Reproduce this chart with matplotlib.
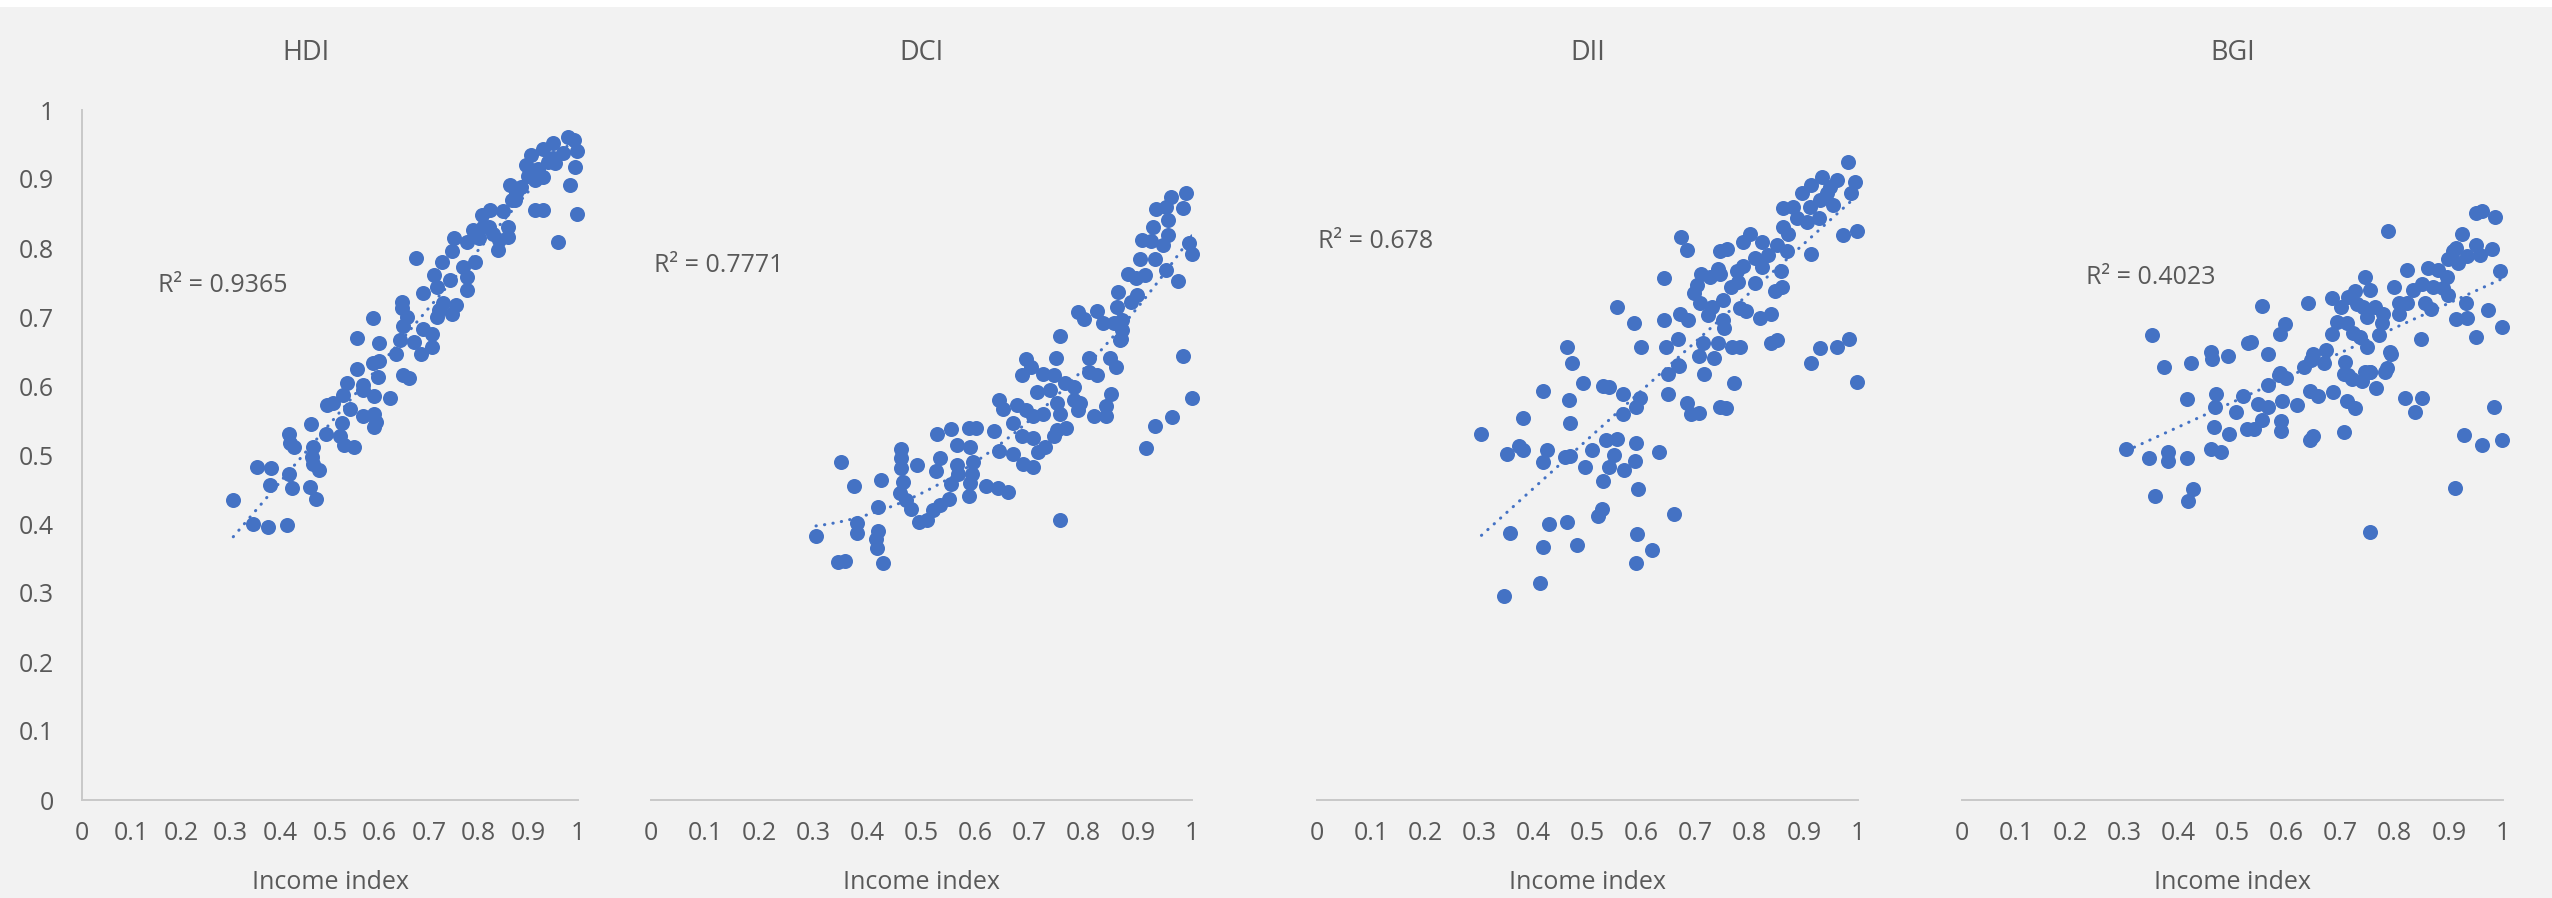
import numpy as np
from matplotlib import pyplot as plt
from matplotlib.patches import Rectangle

BLUE = "#4472C4"
GREY = "#595959"
AXIS = "#c8c8c8"

# (income index, index value) pairs
hdi_points = [
    (0.305, 0.435), (0.345, 0.400), (0.374, 0.395), (0.413, 0.399), (0.353, 0.483), (0.381, 0.481),
    (0.380, 0.457), (0.417, 0.472), (0.424, 0.452), (0.460, 0.453), (0.471, 0.436), (0.417, 0.530),
    (0.419, 0.517), (0.427, 0.511), (0.462, 0.545), (0.466, 0.512), (0.463, 0.497), (0.465, 0.487),
    (0.478, 0.478), (0.491, 0.530), (0.525, 0.546), (0.520, 0.528), (0.528, 0.514), (0.549, 0.511),
    (0.493, 0.572), (0.507, 0.576), (0.527, 0.587), (0.540, 0.566), (0.534, 0.605), (0.566, 0.557),
    (0.589, 0.560), (0.593, 0.548), (0.589, 0.540), (0.566, 0.601), (0.566, 0.594), (0.589, 0.585),
    (0.620, 0.583), (0.555, 0.625), (0.597, 0.613), (0.587, 0.634), (0.599, 0.636), (0.555, 0.669),
    (0.599, 0.662), (0.633, 0.647), (0.648, 0.616), (0.660, 0.612), (0.641, 0.667), (0.648, 0.687),
    (0.670, 0.664), (0.683, 0.647), (0.687, 0.683), (0.705, 0.676), (0.706, 0.656), (0.586, 0.698),
    (0.715, 0.700), (0.673, 0.786), (0.645, 0.722), (0.645, 0.713), (0.655, 0.700), (0.688, 0.735),
    (0.710, 0.761), (0.725, 0.780), (0.715, 0.744), (0.728, 0.720), (0.720, 0.710), (0.745, 0.705),
    (0.755, 0.717), (0.742, 0.754), (0.745, 0.795), (0.749, 0.814), (0.769, 0.773), (0.776, 0.758),
    (0.776, 0.739), (0.792, 0.780), (0.776, 0.809), (0.789, 0.826), (0.806, 0.848), (0.823, 0.855),
    (0.809, 0.831), (0.829, 0.821), (0.839, 0.797), (0.840, 0.812), (0.859, 0.831), (0.859, 0.816),
    (0.849, 0.853), (0.863, 0.891), (0.866, 0.870), (0.872, 0.870), (0.886, 0.889), (0.896, 0.920),
    (0.906, 0.935), (0.913, 0.899), (0.913, 0.855), (0.930, 0.855), (0.930, 0.903), (0.930, 0.944),
    (0.906, 0.913), (0.950, 0.952), (0.954, 0.923), (0.960, 0.808), (0.980, 0.961), (0.991, 0.957),
    (0.997, 0.940), (0.994, 0.918), (0.983, 0.891), (0.997, 0.849), (0.970, 0.937), (0.950, 0.930),
    (0.900, 0.905), (0.920, 0.915), (0.940, 0.925), (0.876, 0.880), (0.820, 0.830), (0.800, 0.815),
]

dci_points = [
    (0.305, 0.382), (0.346, 0.345), (0.359, 0.347), (0.352, 0.490), (0.375, 0.455), (0.381, 0.401),
    (0.381, 0.387), (0.419, 0.425), (0.419, 0.390), (0.415, 0.378), (0.417, 0.365), (0.428, 0.344),
    (0.425, 0.464), (0.463, 0.509), (0.463, 0.495), (0.463, 0.481), (0.466, 0.461), (0.461, 0.445),
    (0.471, 0.435), (0.480, 0.422), (0.492, 0.486), (0.496, 0.403), (0.510, 0.406), (0.522, 0.420),
    (0.534, 0.428), (0.550, 0.436), (0.527, 0.477), (0.534, 0.495), (0.529, 0.530), (0.555, 0.537),
    (0.565, 0.514), (0.565, 0.486), (0.567, 0.473), (0.555, 0.458), (0.587, 0.539), (0.600, 0.539),
    (0.590, 0.512), (0.596, 0.490), (0.593, 0.473), (0.590, 0.459), (0.588, 0.440), (0.620, 0.455),
    (0.642, 0.452), (0.659, 0.447), (0.634, 0.535), (0.644, 0.506), (0.644, 0.579), (0.650, 0.567),
    (0.670, 0.502), (0.670, 0.546), (0.676, 0.572), (0.685, 0.527), (0.687, 0.487), (0.707, 0.482),
    (0.707, 0.524), (0.694, 0.565), (0.707, 0.556), (0.725, 0.560), (0.693, 0.639), (0.685, 0.616),
    (0.702, 0.627), (0.713, 0.592), (0.725, 0.618), (0.716, 0.505), (0.728, 0.512), (0.744, 0.527),
    (0.750, 0.536), (0.768, 0.539), (0.756, 0.406), (0.749, 0.640), (0.744, 0.616), (0.738, 0.594),
    (0.750, 0.575), (0.756, 0.560), (0.765, 0.604), (0.781, 0.599), (0.781, 0.580), (0.793, 0.575),
    (0.790, 0.565), (0.810, 0.640), (0.810, 0.621), (0.824, 0.616), (0.819, 0.556), (0.841, 0.556),
    (0.841, 0.571), (0.850, 0.589), (0.848, 0.640), (0.860, 0.628), (0.867, 0.667), (0.915, 0.510),
    (0.932, 0.542), (0.963, 0.555), (0.984, 0.644), (1.000, 0.583), (0.756, 0.672), (0.789, 0.707),
    (0.800, 0.697), (0.824, 0.709), (0.835, 0.692), (0.855, 0.691), (0.870, 0.696), (0.870, 0.681),
    (0.868, 0.668), (0.862, 0.714), (0.863, 0.736), (0.888, 0.722), (0.898, 0.732), (0.881, 0.762),
    (0.896, 0.756), (0.913, 0.761), (0.904, 0.784), (0.932, 0.784), (0.952, 0.768), (0.975, 0.752),
    (0.907, 0.812), (0.925, 0.810), (0.946, 0.804), (0.955, 0.819), (0.927, 0.831), (0.933, 0.857),
    (0.952, 0.860), (0.956, 0.841), (0.962, 0.874), (0.984, 0.858), (0.988, 0.880), (0.995, 0.807),
    (1.000, 0.792),
]

dii_points = [
    (0.304, 0.530), (0.352, 0.501), (0.374, 0.513), (0.380, 0.507), (0.381, 0.553), (0.357, 0.387),
    (0.346, 0.295), (0.413, 0.314), (0.417, 0.366), (0.428, 0.400), (0.418, 0.490), (0.425, 0.507),
    (0.418, 0.593), (0.462, 0.403), (0.480, 0.370), (0.458, 0.497), (0.468, 0.499), (0.468, 0.547),
    (0.465, 0.580), (0.471, 0.633), (0.492, 0.604), (0.495, 0.483), (0.508, 0.507), (0.528, 0.463),
    (0.520, 0.412), (0.526, 0.422), (0.534, 0.522), (0.554, 0.523), (0.549, 0.500), (0.540, 0.483),
    (0.567, 0.478), (0.590, 0.518), (0.588, 0.491), (0.594, 0.451), (0.592, 0.386), (0.620, 0.362),
    (0.590, 0.344), (0.633, 0.504), (0.659, 0.414), (0.529, 0.600), (0.540, 0.598), (0.565, 0.588),
    (0.597, 0.582), (0.589, 0.569), (0.565, 0.560), (0.649, 0.589), (0.649, 0.618), (0.670, 0.629),
    (0.684, 0.576), (0.691, 0.560), (0.707, 0.561), (0.715, 0.617), (0.745, 0.569), (0.756, 0.568),
    (0.770, 0.605), (0.914, 0.634), (0.999, 0.606), (0.463, 0.657), (0.554, 0.715), (0.586, 0.691),
    (0.598, 0.657), (0.641, 0.756), (0.641, 0.696), (0.646, 0.657), (0.668, 0.668), (0.672, 0.816),
    (0.684, 0.797), (0.671, 0.704), (0.686, 0.695), (0.668, 0.630), (0.696, 0.735), (0.703, 0.746),
    (0.709, 0.762), (0.708, 0.720), (0.723, 0.703), (0.714, 0.662), (0.707, 0.643), (0.734, 0.640),
    (0.726, 0.758), (0.742, 0.770), (0.745, 0.762), (0.745, 0.796), (0.757, 0.798), (0.730, 0.715),
    (0.751, 0.725), (0.751, 0.696), (0.753, 0.684), (0.742, 0.662), (0.767, 0.657), (0.781, 0.657),
    (0.765, 0.743), (0.776, 0.766), (0.779, 0.751), (0.788, 0.774), (0.782, 0.713), (0.793, 0.709),
    (0.788, 0.808), (0.800, 0.821), (0.810, 0.785), (0.810, 0.749), (0.822, 0.809), (0.822, 0.773),
    (0.819, 0.698), (0.840, 0.704), (0.839, 0.662), (0.850, 0.667), (0.834, 0.790), (0.850, 0.804),
    (0.847, 0.737), (0.859, 0.744), (0.858, 0.766), (0.868, 0.795), (0.862, 0.831), (0.871, 0.821),
    (0.861, 0.858), (0.880, 0.860), (0.887, 0.843), (0.896, 0.879), (0.905, 0.838), (0.914, 0.891),
    (0.911, 0.860), (0.914, 0.792), (0.927, 0.843), (0.933, 0.903), (0.930, 0.870), (0.942, 0.879),
    (0.948, 0.889), (0.954, 0.862), (0.962, 0.899), (0.973, 0.819), (0.981, 0.925), (0.994, 0.896),
    (0.987, 0.880), (0.999, 0.825), (0.930, 0.655), (0.962, 0.656), (0.983, 0.668),
]

bgi_points = [
    (0.352, 0.674), (0.374, 0.627), (0.423, 0.633), (0.460, 0.650), (0.463, 0.639), (0.491, 0.644),
    (0.529, 0.663), (0.535, 0.664), (0.554, 0.716), (0.565, 0.647), (0.587, 0.676), (0.597, 0.690),
    (0.640, 0.720), (0.649, 0.647), (0.646, 0.638), (0.673, 0.652), (0.670, 0.633), (0.633, 0.627),
    (0.588, 0.619), (0.684, 0.728), (0.700, 0.715), (0.684, 0.676), (0.693, 0.693), (0.711, 0.691),
    (0.708, 0.635), (0.706, 0.618), (0.714, 0.729), (0.726, 0.737), (0.730, 0.719), (0.723, 0.677),
    (0.736, 0.671), (0.748, 0.657), (0.745, 0.758), (0.754, 0.739), (0.742, 0.714), (0.749, 0.700),
    (0.763, 0.714), (0.779, 0.705), (0.776, 0.691), (0.770, 0.674), (0.745, 0.621), (0.755, 0.621),
    (0.786, 0.626), (0.793, 0.647), (0.787, 0.824), (0.799, 0.743), (0.808, 0.721), (0.807, 0.704),
    (0.822, 0.768), (0.823, 0.721), (0.834, 0.739), (0.848, 0.668), (0.850, 0.748), (0.862, 0.771),
    (0.856, 0.720), (0.867, 0.712), (0.871, 0.744), (0.880, 0.768), (0.890, 0.742), (0.899, 0.732),
    (0.896, 0.758), (0.899, 0.784), (0.908, 0.795), (0.914, 0.800), (0.917, 0.778), (0.925, 0.821),
    (0.933, 0.788), (0.932, 0.720), (0.914, 0.697), (0.933, 0.698), (0.950, 0.671), (0.950, 0.804),
    (0.957, 0.790), (0.950, 0.851), (0.962, 0.854), (0.986, 0.845), (0.980, 0.799), (0.973, 0.710),
    (0.994, 0.767), (0.999, 0.686), (0.304, 0.508), (0.345, 0.495), (0.356, 0.440), (0.381, 0.505),
    (0.381, 0.491), (0.416, 0.495), (0.417, 0.433), (0.427, 0.451), (0.416, 0.581), (0.460, 0.509),
    (0.466, 0.541), (0.468, 0.570), (0.470, 0.588), (0.479, 0.505), (0.493, 0.531), (0.506, 0.562),
    (0.519, 0.585), (0.527, 0.537), (0.539, 0.537), (0.548, 0.574), (0.554, 0.551), (0.566, 0.570),
    (0.566, 0.602), (0.589, 0.535), (0.589, 0.549), (0.592, 0.578), (0.586, 0.616), (0.599, 0.612),
    (0.619, 0.572), (0.643, 0.593), (0.643, 0.522), (0.648, 0.527), (0.658, 0.585), (0.685, 0.592),
    (0.706, 0.533), (0.712, 0.578), (0.727, 0.568), (0.714, 0.616), (0.720, 0.610), (0.740, 0.607),
    (0.754, 0.620), (0.765, 0.597), (0.755, 0.389), (0.781, 0.620), (0.792, 0.649), (0.818, 0.583),
    (0.838, 0.562), (0.850, 0.583), (0.911, 0.452), (0.928, 0.529), (0.961, 0.514), (0.983, 0.570),
    (0.998, 0.522),
]

titles = ["HDI", "DCI", "DII", "BGI"]
r2_labels = ["R² = 0.9365", "R² = 0.7771", "R² = 0.678", "R² = 0.4023"]
# trendline polynomial coefficients, highest power first
trend_coeffs = [[0.841, 0.125], [0.726, -0.342, 0.434], [0.709, 0.168], [0.359, 0.397]]
ticks = [0, 0.1, 0.2, 0.3, 0.4, 0.5, 0.6, 0.7, 0.8, 0.9, 1]
tick_labels = ["0", "0.1", "0.2", "0.3", "0.4", "0.5", "0.6", "0.7", "0.8", "0.9", "1"]
x_label = "Income index"

W, H = 2552, 898
# panel placement in pixels: left edge, width
lefts = [82, 651, 1317, 1962]
widths = [496, 541, 541, 541]
title_x = [0.452, 0.5, 0.5, 0.5]
r2_pos = [(0.153, 0.746), (0.006, 0.775), (0.002, 0.809), (0.229, 0.757)]

plt.rcParams["font.family"] = ["Open Sans", "DejaVu Sans"]

fig = plt.figure(figsize=(W / 100, H / 100), dpi=100, facecolor="#f2f2f2")
fig.patches.append(Rectangle((0, 1 - 7 / H), 1, 7 / H, transform=fig.transFigure,
                             facecolor="white", edgecolor="none", zorder=0))

all_points = [hdi_points, dci_points, dii_points, bgi_points]
for i, pts in enumerate(all_points):
    ax = fig.add_axes([lefts[i] / W, 1 - 800 / H, widths[i] / W, 690 / H])
    ax.set_facecolor("none")
    x, y = np.array(pts).T
    ax.scatter(x, y, s=117, color=BLUE, linewidths=0, clip_on=False, zorder=3)
    tx = np.linspace(x.min(), x.max(), 200)
    ax.plot(tx, np.polyval(trend_coeffs[i], tx), color=BLUE, lw=2.2,
            linestyle=(0, (0.1, 2.7)), dash_capstyle="round", zorder=2)

    ax.set_xlim(0, 1)
    ax.set_ylim(0, 1)
    ax.set_xticks(ticks, tick_labels)
    ax.tick_params(axis="x", length=0, pad=15, labelsize=18, labelcolor=GREY)
    for side in ["top", "right"]:
        ax.spines[side].set_visible(False)
    ax.spines["bottom"].set_color(AXIS)
    ax.spines["bottom"].set_linewidth(1.4)
    if i == 0:
        ax.set_yticks(ticks, tick_labels)
        ax.tick_params(axis="y", length=0, pad=20, labelsize=18, labelcolor=GREY)
        ax.spines["left"].set_color(AXIS)
        ax.spines["left"].set_linewidth(1.4)
    else:
        ax.set_yticks([])
        ax.spines["left"].set_visible(False)

    ax.text(title_x[i], 1.083, titles[i], transform=ax.transAxes, ha="center", va="center",
            fontsize=19.5, color=GREY)
    ax.text(0.5, -0.12, x_label, transform=ax.transAxes, ha="center", va="center",
            fontsize=18, color=GREY)
    ax.text(r2_pos[i][0], r2_pos[i][1], r2_labels[i], transform=ax.transAxes, ha="left",
            va="center", fontsize=18, color=GREY)

fig.savefig("out.png", dpi=100, facecolor=fig.get_facecolor())
